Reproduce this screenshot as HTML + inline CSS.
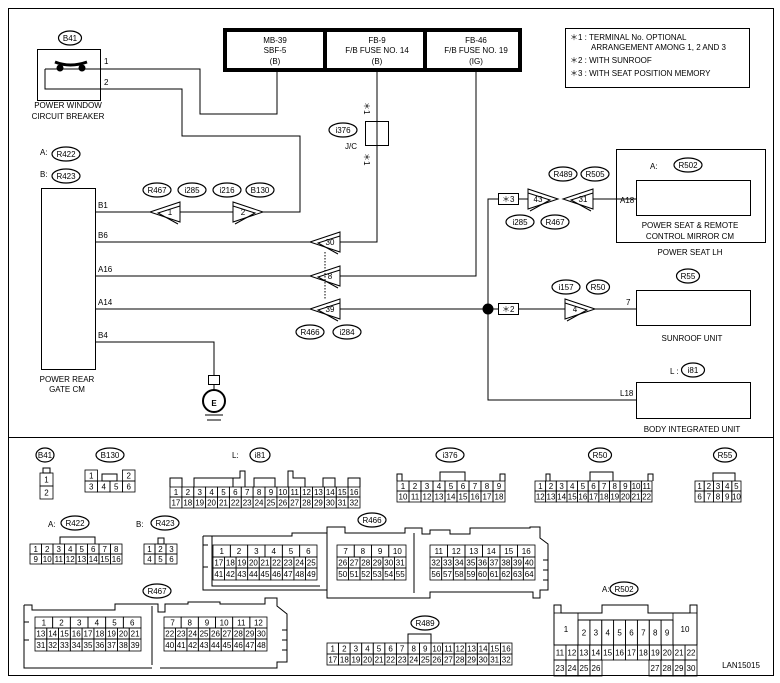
<!DOCTYPE html>
<html><head><meta charset="utf-8"><style>
html,body{margin:0;padding:0;background:#fff}
svg{display:block}
text{font-family:"Liberation Sans",sans-serif;font-size:8px;fill:#000}
</style></head><body>
<svg id="s" width="780" height="683" viewBox="0 0 780 683" xmlns="http://www.w3.org/2000/svg" stroke="#000" fill="none" stroke-width="1">
<rect x="8.5" y="8.5" width="765" height="667"/>
<line x1="8" y1="437.5" x2="773" y2="437.5"/>
<!-- fuse block -->
<rect x="225" y="30" width="295" height="40" stroke-width="4"/>
<line x1="325" y1="30" x2="325" y2="70" stroke-width="4"/>
<line x1="425" y1="30" x2="425" y2="70" stroke-width="4"/>
<g stroke="none" text-anchor="middle">
<text x="275" y="43">MB-39</text><text x="275" y="53">SBF-5</text><text x="275" y="64">(B)</text>
<text x="377" y="43">FB-9</text><text x="377" y="53">F/B FUSE NO. 14</text><text x="377" y="64">(B)</text>
<text x="476" y="43">FB-46</text><text x="476" y="53">F/B FUSE NO. 19</text><text x="476" y="64">(IG)</text>
</g>
<!-- legend -->
<rect x="565.5" y="28.5" width="184" height="59"/>
<g stroke="none"><text x="570" y="40">＊1  : TERMINAL No. OPTIONAL</text><text x="591" y="50">ARRANGEMENT AMONG 1, 2 AND 3</text>
<text x="570" y="63">＊2  : WITH SUNROOF</text><text x="570" y="76">＊3  : WITH SEAT POSITION MEMORY</text></g>
<!-- breaker -->
<rect x="37.5" y="49.5" width="63" height="51"/>
<path d="M45 69 H200 V114 H277 V70"/>
<path d="M45 69 V89 H182 V136 H300 V212 H263"/>
<path d="M55 62 Q70 68 87 62" stroke-width="3"/>
<circle cx="60" cy="68" r="3" fill="#000"/><circle cx="82" cy="68" r="3" fill="#000"/>
<g stroke="none"><text x="104" y="64">1</text><text x="104" y="85">2</text>
<text x="68" y="108" text-anchor="middle">POWER WINDOW</text><text x="68" y="119" text-anchor="middle">CIRCUIT BREAKER</text>
<text x="40" y="155">A:</text><text x="40" y="177">B:</text>
<text x="67" y="382" text-anchor="middle">POWER REAR</text><text x="67" y="392" text-anchor="middle">GATE CM</text>
<text x="98" y="208">B1</text><text x="98" y="238">B6</text><text x="98" y="272">A16</text><text x="98" y="305">A14</text><text x="98" y="338">B4</text>
<text x="351" y="149" text-anchor="middle" font-size="7">J/C</text>
<text x="620" y="203">A18</text><text x="626" y="305">7</text><text x="620" y="396">L18</text>
<text x="650" y="169">A:</text><text x="670" y="374">L :</text>
<text x="690" y="228" text-anchor="middle">POWER SEAT &amp; REMOTE</text><text x="690" y="239" text-anchor="middle">CONTROL MIRROR CM</text>
<text x="690" y="255" text-anchor="middle">POWER SEAT LH</text>
<text x="692" y="341" text-anchor="middle">SUNROOF UNIT</text>
<text x="692" y="432" text-anchor="middle">BODY INTEGRATED UNIT</text>
<text x="741" y="668" text-anchor="middle" font-size="9">LAN15015</text>
<text x="0" y="0" transform="translate(364,102) rotate(90)">＊1</text>
<text x="0" y="0" transform="translate(364,153) rotate(90)">＊1</text>
</g>
<rect x="41.5" y="188.5" width="54" height="181"/>
<line x1="95" y1="212" x2="150" y2="212"/><line x1="180" y1="212" x2="233" y2="212"/>
<line x1="95" y1="242" x2="310" y2="242"/><path d="M340 242 H377 V72"/>
<line x1="95" y1="276" x2="310" y2="276"/><path d="M340 276 H476 V72"/>
<line x1="95" y1="309" x2="310" y2="309"/><line x1="340" y1="309" x2="488" y2="309"/>
<line x1="325" y1="252" x2="325" y2="300" stroke-dasharray="1.5,1.5"/>
<rect x="365.5" y="121.5" width="23" height="24"/>
<path d="M95 342 H214 V375"/>
<rect x="208.5" y="375.5" width="11" height="9"/>
<line x1="214" y1="385" x2="214" y2="390"/>
<circle cx="214" cy="401" r="11" stroke-width="2"/>
<text x="214" y="406" text-anchor="middle" stroke="none" font-size="14" font-weight="bold">E</text>
<line x1="205" y1="415" x2="223" y2="415"/><line x1="207" y1="420" x2="221" y2="420"/>
<!-- right -->
<path d="M498 199 H488 V400 H636"/>
<circle cx="488" cy="309" r="5" fill="#000"/>
<line x1="488" y1="309" x2="498" y2="309"/><line x1="518" y1="309" x2="565" y2="309"/><line x1="595" y1="309" x2="636" y2="309"/>
<rect x="498.5" y="193.5" width="20" height="11"/><rect x="498.5" y="303.5" width="20" height="11"/>
<g stroke="none"><text x="502" y="202">＊3</text><text x="502" y="312">＊2</text></g>
<line x1="518" y1="199" x2="528" y2="199"/><line x1="593" y1="199" x2="636" y2="199"/>
<rect x="616.5" y="149.5" width="149" height="93"/>
<rect x="636.5" y="180.5" width="114" height="35"/>
<rect x="636.5" y="290.5" width="114" height="35"/>
<rect x="636.5" y="382.5" width="114" height="36"/>
<g id="dyn"></g>
</svg>
<script>
var g=document.getElementById('dyn'),h='';
function ov(x,y,t,w){w=w||(t.length*5+8);h+='<ellipse cx="'+x+'" cy="'+y+'" rx="'+w/2+'" ry="7" stroke-width="1.2"/><text x="'+x+'" y="'+(y+3)+'" text-anchor="middle" stroke="none" font-size="8">'+t+'</text>';}
function con(x,y,n,dir){ // x = tip
 var s=dir<0?1:-1;
 h+='<path d="M'+x+' '+y+' L'+(x+30*s)+' '+(y-10)+' V'+(y+10)+' Z"/>';
 h+='<path d="M'+(x+30*s)+' '+(y-6)+' L'+(x+8*s)+' '+(y+1)+' L'+(x+28*s)+' '+(y+12)+'"/>';
 h+='<text x="'+(x+20*s)+'" y="'+(y+3)+'" text-anchor="middle" stroke="none" font-size="8">'+n+'</text>';}
con(150,212,'1',-1);con(263,212,'2',1);con(310,242,'30',-1);con(310,276,'8',-1);con(310,309,'39',-1);
con(558,199,'43',1);con(563,199,'31',-1);con(595,309,'4',1);
ov(70,38,'B41');ov(66,154,'R422');ov(66,176,'R423');
ov(157,190,'R467');ov(192,190,'i285');ov(227,190,'i216');ov(260,190,'B130');
ov(310,332,'R466');ov(347,332,'i284');ov(343,130,'i376');
ov(563,174,'R489');ov(595,174,'R505');ov(520,222,'i285');ov(555,222,'R467');
ov(688,165,'R502');ov(688,276,'R55');ov(566,287,'i157');ov(598,287,'R50');ov(693,370,'i81');
// grid: x0, y0, width, rowheight, labels array
function row(x0,y0,w,rh,arr){var cw=w/arr.length;for(var i=0;i<arr.length;i++){var x=x0+i*cw;
 if(arr[i]===null)continue;
 h+='<rect x="'+x+'" y="'+y0+'" width="'+cw+'" height="'+rh+'" stroke-width="0.8"/>';
 if(arr[i]!=='')h+='<text x="'+(x+cw/2)+'" y="'+(y0+rh/2+3)+'" text-anchor="middle" stroke="none" font-size="'+(cw<10?6.5:7.5)+'">'+arr[i]+'</text>';}}
function rng(a,b){var r=[];for(var i=a;i<=b;i++)r.push(i);return r;}
function T(x,y,t){h+='<text x="'+x+'" y="'+y+'" stroke="none" font-size="8">'+t+'</text>';}
// bottom
ov(45,455,'B41',18);h+='<rect x="43" y="468" width="7" height="5"/>';row(40,473,13,13,['1']);row(40,486,13,13,['2']);
ov(110,455,'B130');row(85,470,50,11,['1',null,null,'2']);h+='<rect x="102" y="474" width="15" height="7"/>';row(85,481,50,11,[3,4,5,6]);
T(232,458,'L:');ov(260,455,'i81',20);
h+='<path d="M170 487 V478 H182 V487 M194 487 V478 H233 V487 M233 478 H240 V471 H245 V487 M254 487 V478 H275 V487 M288 487 V471 H293 V478 H305 V487 M323 487 V478 H335 V487 M348 487 V478 H360 V487"/>';
row(170,487,190,10,rng(1,16));row(170,497,190,11,rng(17,32));
ov(450,455,'i376');h+='<path d="M397 481 V474 H402 V481 M440 481 V472 H465 V481 M500 481 V474 H505 V481"/>';
row(397,481,108,10,rng(1,9));row(397,491,108,11,rng(10,18));
ov(600,455,'R50');h+='<path d="M546 481 V474 H550 V481 M590 481 V472 H613 V481 M653 481 V474 H648 V481"/>';
row(535,481,117,10,rng(1,11));row(535,491,117,11,rng(12,22));
ov(725,455,'R55');h+='<path d="M713 481 V473 H735 V481"/>';
row(695,481,46,10,rng(1,5));row(695,491,46,11,rng(6,10));
T(48,527,'A:');ov(75,523,'R422');h+='<path d="M60 544 V537 H95 V544"/>';row(30,544,92,10,rng(1,8));row(30,554,92,10,rng(9,16));
T(136,527,'B:');ov(165,523,'R423');h+='<rect x="158" y="538" width="6" height="6"/>';row(144,544,33,10,rng(1,3));row(144,554,33,10,rng(4,6));
// R466
ov(372,520,'R466');
h+='<path d="M203 536 H212 V545 V580 V586 H320 M203 536 V590 H327 V598 H407 M212 536 H292 V533 H327 V527 H345 V533 H405 V528 H422 V534 H430 V530 H450 V534 H470 V528 H530 V527 H540 V538 L548 544 V590 H540 V598 H533 V592 H430 V598 H407"/>';
h+='<path d="M327 533 V593 M414 533 V593 M203 545 H208 M203 567 H208"/>';
row(213,545,104,12,rng(1,6));row(213,557,104,11,rng(17,25));row(213,568,104,12,rng(41,49));
row(337,545,69,12,rng(7,10));row(337,557,69,11,rng(26,31));row(337,568,69,12,rng(50,55));
row(430,545,105,12,rng(11,16));row(430,557,105,11,rng(32,40));row(430,568,105,12,rng(56,64));
h+='<path d="M543 560 h5 M543 570 h5 M543 580 h5"/>';
// R467
ov(157,591,'R467');
h+='<path d="M24 605 V668 H152 M24 605 H32 V610 H115 V604 H158 V612 H165 V604 H188 V602 H220 V604 H265 V598 H277 V606 L287 614 V662 H277 V668 H160 M152 606 V665 M24 622 H29 M24 640 H29"/>';
row(35,617,106,11,rng(1,6));row(35,628,106,11,rng(13,21));row(35,639,106,12,rng(31,39));
row(164,617,103,11,rng(7,12));row(164,628,103,11,rng(22,30));row(164,639,103,12,rng(40,48));
h+='<path d="M282 630 h5 M282 640 h5 M282 650 h5"/>';
// R489
ov(425,623,'R489');h+='<path d="M408 643 V634 H431 V643"/>';
row(327,643,185,11,rng(1,16));row(327,654,185,11,rng(17,32));
// R502
T(602,592,'A:');ov(624,589,'R502');
h+='<path d="M554 645 V605 H561 V613 H602 V605 H648 V613 H690 V605 H697 V645 M578 620 H673"/>';
row(554,613,24,32,['1']);row(578,620,95,25,rng(2,9));row(673,613,24,32,['10']);
row(554,645,143,15,rng(11,22));row(554,660,48,16,rng(23,26));row(649,660,48,16,rng(27,30));
g.innerHTML=h;
</script>
</body></html>
